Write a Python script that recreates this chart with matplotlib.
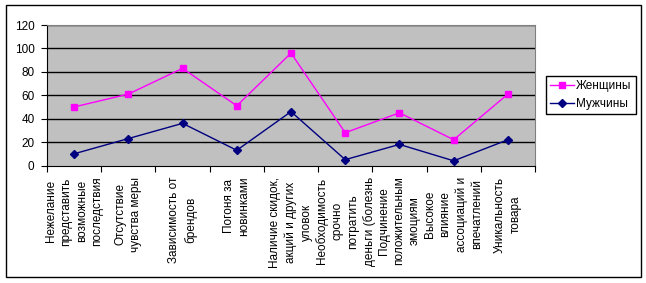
import matplotlib.pyplot as plt
from matplotlib.lines import Line2D
from matplotlib.patches import Rectangle

plt.rcParams['font.family'] = ['Liberation Sans', 'DejaVu Sans']

categories = [
    'Нежелание\nпредставить\nвозможные\nпоследствия',
    'Отсутствие\nчувства меры',
    'Зависимость от\nбрендов',
    'Погоня за\nновинками',
    'Наличие скидок,\nакций и других\nуловок',
    'Необходимость\nсрочно\nпотратить\nденьги (болезнь',
    'Подчинение\nположительным\nэмоциям',
    'Высокое\nвлияние\nассоциаций и\nвпечатлений',
    'Уникальность\nтовара',
]
women = [50, 61, 83, 51, 96, 28, 45, 22, 61]
men = [10, 23, 36, 13, 46, 5, 18, 4, 22]
yticks = [0, 20, 40, 60, 80, 100, 120]

W, H = 646, 283
fig = plt.figure(figsize=(W / 100, H / 100), dpi=100)
fig.patch.set_facecolor('white')
# outer chart border
fig.add_artist(Rectangle((6 / W, 1 - 277 / H), 635 / W, 272 / H,
                         transform=fig.transFigure, fill=False,
                         edgecolor='black', linewidth=1))

ax = fig.add_axes([47 / W, 1 - 165.5 / H, 488 / W, 140.5 / H])
ax.set_facecolor('#C0C0C0')

x = [i + 0.5 for i in range(len(categories))]
ax.plot(x, women, color='#FF00FF', marker='s', markersize=5, linewidth=1,
        label='Женщины')
ax.plot(x, men, color='#000080', marker='D', markersize=4.5, linewidth=1,
        label='Мужчины')

ax.set_xlim(0, len(categories))
ax.set_ylim(0, 120)
ax.set_yticks(yticks)
for v in yticks[1:]:
    ax.axhline(v, color='black', linewidth=1, zorder=0.5)

# tick marks at category edges, labels at centres
ax.set_xticks(range(len(categories) + 1))
ax.set_xticklabels([])
ax.set_xticks(x, minor=True)
ax.set_xticklabels(categories, minor=True, rotation=90, va='top', ha='center',
                   multialignment='center', linespacing=1.4, fontsize=8.5)
ax.tick_params(axis='x', which='minor', length=0, pad=8)
ax.tick_params(axis='x', which='major', length=4, direction='out')
ax.tick_params(axis='y', length=4, direction='out', labelsize=8.5, pad=5)

ax.spines['left'].set_color('black')
ax.spines['bottom'].set_color('black')
ax.spines['top'].set_color('#808080')
ax.spines['right'].set_color('#808080')

handles = [
    Line2D([], [], color='#FF00FF', marker='s', markersize=5, linewidth=1),
    Line2D([], [], color='#000080', marker='D', markersize=4.5, linewidth=1),
]
leg = fig.legend(handles, ['Женщины', 'Мужчины'], loc='upper left',
                 bbox_to_anchor=(546 / W, 1 - 76 / H), fontsize=8.5,
                 frameon=True, fancybox=False, edgecolor='black',
                 framealpha=1, borderpad=0.35, handlelength=2.0,
                 handletextpad=0.2, labelspacing=0.5, borderaxespad=0)
leg.get_frame().set_linewidth(1)

fig.savefig('out.png', dpi=100)
